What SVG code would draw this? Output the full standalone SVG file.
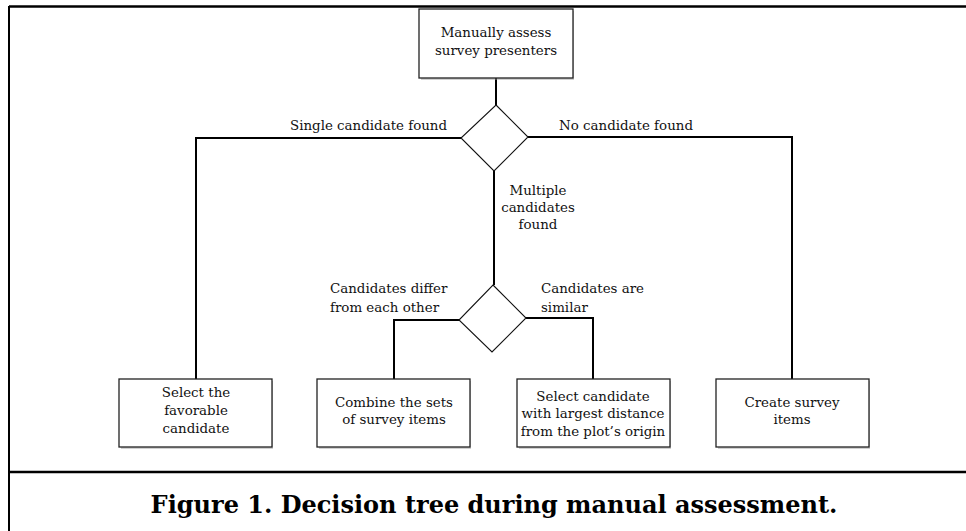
<svg xmlns="http://www.w3.org/2000/svg" width="966" height="531" viewBox="0 0 966 531">
<style>
.box{fill:#fff;stroke:#222;stroke-width:1.3}
.sh{fill:#999;opacity:0.45}
.dia{fill:#fff;stroke:#111;stroke-width:1.1}
.ln{fill:none;stroke:#000;stroke-width:2}
.t{font-family:"DejaVu Serif","Liberation Serif",serif;font-size:13.4px;fill:#111}
.c{text-anchor:middle}
.cap{font-family:"DejaVu Serif","Liberation Serif",serif;font-size:24px;font-weight:bold;fill:#000;text-anchor:middle}
</style>
<rect width="966" height="531" fill="#fff"/>
<g id="frame">
<line x1="9" y1="6.5" x2="966" y2="6.5" stroke="#000" stroke-width="2.5"/>
<line x1="9" y1="6" x2="9" y2="531" stroke="#000" stroke-width="2"/>
<line x1="9" y1="472" x2="966" y2="472" stroke="#000" stroke-width="2.5"/>
</g>
<g id="connectors">
<line class="ln" x1="496" y1="78" x2="496" y2="105"/>
<polyline class="ln" points="461,138 196,138 196,379"/>
<polyline class="ln" points="528,137 792,137 792,379"/>
<line class="ln" x1="494" y1="171" x2="494" y2="285"/>
<polyline class="ln" points="459,320 394,320 394,379"/>
<polyline class="ln" points="526,318 593,318 593,379"/>
</g>
<g id="start">
<rect class="sh" x="421" y="11" width="153" height="69"/>
<rect class="box" x="419" y="9" width="154" height="69"/>
<text class="t c" x="496" y="37">Manually assess</text>
<text class="t c" x="496" y="55">survey presenters</text>
</g>
<g id="decision1">
<polygon class="dia" points="496,105 528,137 494,171 461,138"/>
</g>
<g id="decision2">
<polygon class="dia" points="493,285 526,318 492,352 459,320"/>
</g>
<g id="labels">
<text class="t" x="290" y="130">Single candidate found</text>
<text class="t" x="559" y="130">No candidate found</text>
<text class="t c" x="538" y="195">Multiple</text>
<text class="t c" x="538" y="212">candidates</text>
<text class="t c" x="538" y="229">found</text>
<text class="t" x="330" y="293">Candidates differ</text>
<text class="t" x="330" y="312">from each other</text>
<text class="t" x="541" y="293">Candidates are</text>
<text class="t" x="541" y="312">similar</text>
</g>
<g id="select-favorable">
<rect class="sh" x="121" y="381" width="152" height="68"/>
<rect class="box" x="119" y="379" width="153" height="68"/>
<text class="t c" x="196" y="397">Select the</text>
<text class="t c" x="196" y="415">favorable</text>
<text class="t c" x="196" y="433">candidate</text>
</g>
<g id="combine">
<rect class="sh" x="319" y="381" width="152" height="68"/>
<rect class="box" x="317" y="379" width="153" height="68"/>
<text class="t c" x="394" y="407">Combine the sets</text>
<text class="t c" x="394" y="424">of survey items</text>
</g>
<g id="select-largest">
<rect class="sh" x="519" y="381" width="152" height="68"/>
<rect class="box" x="517" y="379" width="153" height="68"/>
<text class="t c" x="593" y="401">Select candidate</text>
<text class="t c" x="593" y="418">with largest distance</text>
<text class="t c" x="593" y="436">from the plot’s origin</text>
</g>
<g id="create">
<rect class="sh" x="718" y="381" width="152" height="68"/>
<rect class="box" x="716" y="379" width="153" height="68"/>
<text class="t c" x="792" y="407">Create survey</text>
<text class="t c" x="792" y="424">items</text>
</g>
<text class="cap" x="494" y="513">Figure 1. Decision tree during manual assessment.</text>
</svg>
